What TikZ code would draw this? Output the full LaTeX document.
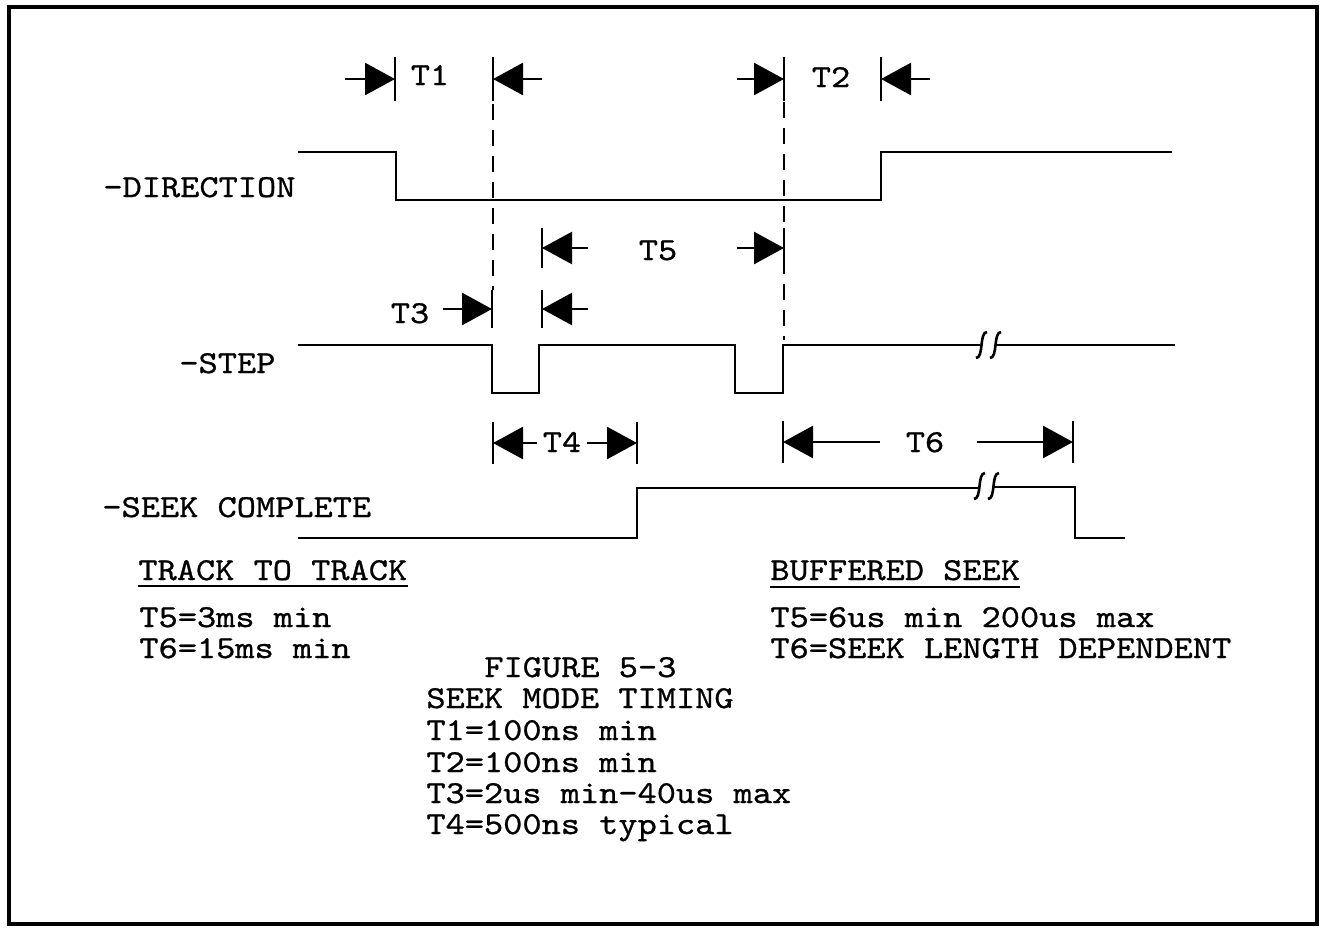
\documentclass[tikz,border=0pt]{standalone}
\usepackage{fontspec}
\usetikzlibrary{arrows.meta}
\newfontfamily\twfam{lmmono10-regular.otf}[FakeStretch=1.143,FakeBold=0.8]
\newcommand\tw{\twfam\fontsize{16}{19}\selectfont}
\newcommand\tickbar[4]{%
  \draw[bar] (#1,#2-#3) -- (#1,#2+#3);
  \draw[arr] (#4,#2) -- (#1,#2);}
\newcommand\brkmark[2]{%
  \draw[sig] (#1+6,#2-13) .. controls (#1-2,#2-13) and (#1+3,#2+13) .. (#1-5,#2+13);}
\begin{document}
\begin{tikzpicture}[x=0.5pt,y=-0.5pt,
  sig/.style={line width=1.3pt,line join=miter},
  bar/.style={line width=1.3pt},
  arr/.style={line width=1.3pt,-{Triangle[length=15pt,width=16pt]}},
  dsh/.style={line width=1.4pt,dash pattern=on 8pt off 5pt},
  txt/.style={font=\tw,inner sep=0pt,anchor=base west},
  tlab/.style={font=\tw,inner sep=0pt,anchor=base}]
\fill[white] (0,0) rectangle (1320,927);
\useasboundingbox (0,0) rectangle (1320,927);
% frame
\draw[line width=1.7pt] (9,7) rectangle (1317,924);

% signal labels
\node[txt] (ldir) at (103,197) {-DIRECTION};
\node[txt] (lstep) at (179,373) {-STEP};
\node[txt] (lseek) at (102,517) {-SEEK COMPLETE};

% DIRECTION
\draw[sig] (298,152) -- (396,152) -- (396,200) -- (881,200) -- (881,152) -- (1172,152);

% STEP
\draw[sig] (298,345) -- (492,345) -- (492,393) -- (539,393) -- (539,345)
  -- (735,345) -- (735,393) -- (783,393) -- (783,345) -- (980,345);
\brkmark{981}{345}
\brkmark{995}{345}
\draw[sig] (995,345) -- (1175,345);

% SEEK COMPLETE
\draw[sig] (298,538) -- (637,538) -- (637,488) -- (979,488);
\brkmark{979}{486}
\brkmark{993}{486}
\draw[sig] (994,487) -- (1075,487) -- (1075,538) -- (1125,538);

% dashed guides
\draw[dsh] (493,104) -- (493,290);
\draw[dsh] (784,102) -- (784,340);

% T1
\tickbar{395}{79}{22}{345}
\tickbar{493}{79}{22}{542}
\node[tlab] (t1) at (430,85) {T1};
% T2
\tickbar{784}{79}{22}{737}
\tickbar{881}{79}{22}{930}
\node[tlab] (t2) at (831,87) {T2};
% T5
\tickbar{542}{248}{20}{588}
\tickbar{784}{248}{20}{737}
\node[tlab] (t5) at (658,260) {T5};
% T3
\tickbar{492}{309}{19}{443}
\tickbar{542}{309}{19}{588}
\node[tlab] (t3) at (410,323) {T3};
% T4
\tickbar{493}{443}{21}{537}
\tickbar{637}{443}{21}{587}
\node[tlab] (t4) at (562,452) {T4};
% T6
\tickbar{783}{442}{21}{880}
\tickbar{1073}{442}{21}{977}
\node[tlab] (t6) at (925,452) {T6};

% left notes
\node[txt] (ttt) at (138,580) {TRACK TO TRACK};
\draw[line width=1pt] ([yshift=-3pt]ttt.base west) -- ([yshift=-3pt]ttt.base east);
\node[txt] (l1) at (139,627) {T5=3ms min};
\node[txt] (l2) at (139,658) {T6=15ms min};

% right notes
\node[txt] (bs) at (770,580) {BUFFERED SEEK};
\draw[line width=1pt] ([yshift=-3.5pt]bs.base west) -- ([yshift=-3.5pt]bs.base east);
\node[txt] (r1) at (770,627) {T5=6us min 200us max};
\node[txt] (r2) at (770,658) {T6=SEEK LENGTH DEPENDENT};

% centre notes
\node[txt] (c0) at (484,677) {FIGURE 5-3};
\node[txt] (c1) at (426,708) {SEEK MODE TIMING};
\node[txt] (c2) at (426,740) {T1=100ns min};
\node[txt] (c3) at (426,772) {T2=100ns min};
\node[txt] (c4) at (426,803) {T3=2us min-40us max};
\node[txt] (c5) at (426,834) {T4=500ns typical};
\end{tikzpicture}
\end{document}
